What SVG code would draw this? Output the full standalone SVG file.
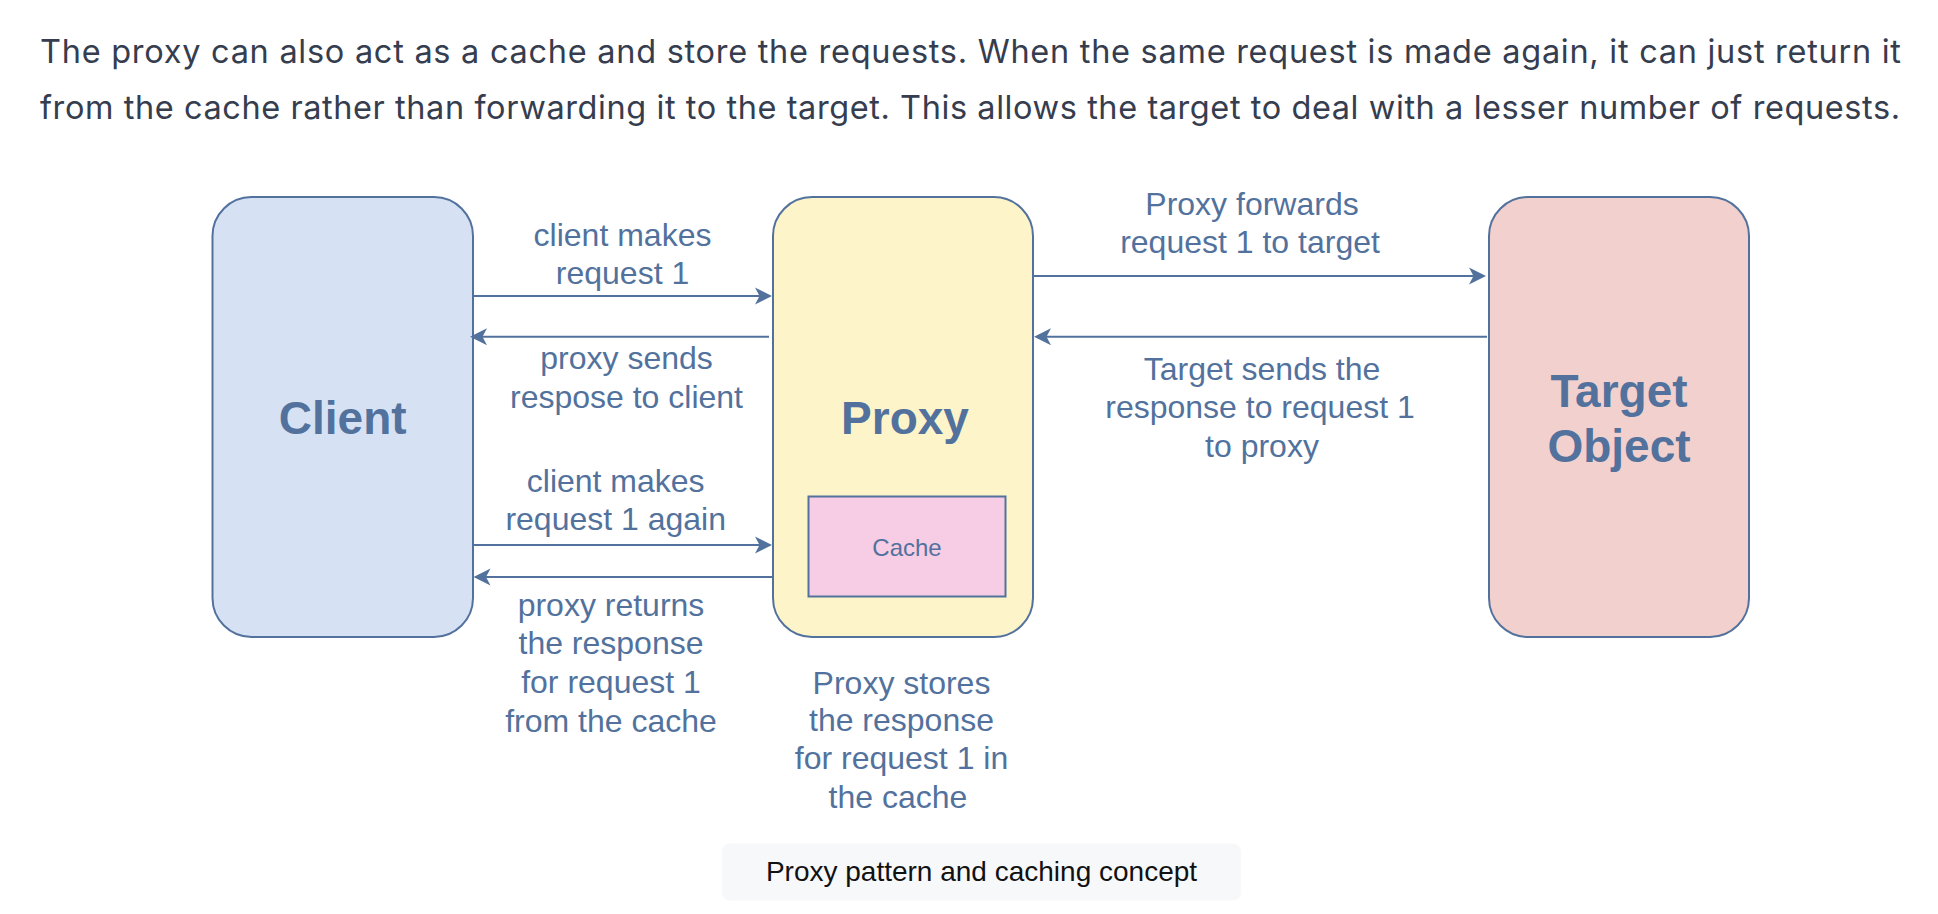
<svg xmlns="http://www.w3.org/2000/svg" width="1938" height="914" viewBox="0 0 1938 914">
<style>
.node{stroke:#52729D;stroke-width:2}
.title{font-family:"Liberation Sans",Arial,sans-serif;font-weight:bold;font-size:46px;fill:#52729D;text-anchor:middle}
.lbl{font-family:"Liberation Sans",Arial,sans-serif;font-size:32px;fill:#52729D;text-anchor:middle}
.edge{fill:none;stroke:#52729D;stroke-width:2;marker-end:url(#arr)}
.para{font-family:Inter,"Liberation Sans",Arial,sans-serif;font-size:32.5px;fill:#353D4F}
</style>
<defs>
<marker id="arr" viewBox="0 -9 18 18" refX="5" refY="0" markerWidth="18" markerHeight="18" orient="auto" markerUnits="userSpaceOnUse">
<path d="M17,0 L0,-8.5 L4.5,0 L0,8.5 Z" fill="#52729D"/>
</marker>
</defs>
<rect width="1938" height="914" fill="#FFFFFF"/>
<g id="paragraph">
<text class="para" x="40" y="63" textLength="1861" lengthAdjust="spacing">The proxy can also act as a cache and store the requests. When the same request is made again, it can just return it</text>
<text class="para" x="40" y="119" textLength="1860" lengthAdjust="spacing">from the cache rather than forwarding it to the target. This allows the target to deal with a lesser number of requests.</text>
</g>
<g id="client">
<rect class="node" x="212.5" y="197" width="260.5" height="440" rx="39" fill="#D6E2F4"/>
<text class="title" x="342.7" y="434">Client</text>
</g>
<g id="proxy">
<rect class="node" x="773" y="197" width="260" height="440" rx="39" fill="#FDF4CA"/>
<text class="title" x="905" y="434">Proxy</text>
</g>
<g id="cache">
<rect class="node" x="808.5" y="496.5" width="197" height="100" fill="#F6CDE4"/>
<text x="907" y="555.5" font-family="Liberation Sans, Arial, sans-serif" font-size="24" fill="#52729D" text-anchor="middle">Cache</text>
</g>
<g id="target">
<rect class="node" x="1489" y="197" width="260" height="440" rx="39" fill="#F2D0CD"/>
<text class="title" x="1619" y="406.7">Target</text>
<text class="title" x="1619" y="461.7">Object</text>
</g>
<g id="connectors">
<path class="edge" d="M473,296 H760"/>
<path class="edge" d="M769,336.7 H482"/>
<path class="edge" d="M473,545 H760"/>
<path class="edge" d="M773,577 H485.5"/>
<path class="edge" d="M1033,276 H1474"/>
<path class="edge" d="M1487,336.7 H1046"/>
</g>
<g id="labels">
<text class="lbl" x="622.5" y="245.5">client makes</text>
<text class="lbl" x="622.5" y="283.5">request 1</text>
<text class="lbl" x="626.5" y="369">proxy sends</text>
<text class="lbl" x="626.5" y="407.5">respose to client</text>
<text class="lbl" x="615.7" y="491.5">client makes</text>
<text class="lbl" x="615.7" y="529.5">request 1 again</text>
<text class="lbl" x="611" y="616">proxy returns</text>
<text class="lbl" x="611" y="654">the response</text>
<text class="lbl" x="611" y="692.5">for request 1</text>
<text class="lbl" x="611" y="731.5">from the cache</text>
<text class="lbl" x="1252" y="215">Proxy forwards</text>
<text class="lbl" x="1250" y="252.7">request 1 to target</text>
<text class="lbl" x="1262" y="380">Target sends the</text>
<text class="lbl" x="1260" y="418.3">response to request 1</text>
<text class="lbl" x="1262" y="456.5">to proxy</text>
<text class="lbl" x="901.5" y="693.5">Proxy stores</text>
<text class="lbl" x="901.5" y="731">the response</text>
<text class="lbl" x="901.5" y="769">for request 1 in</text>
<text class="lbl" x="898" y="807.5">the cache</text>
</g>
<g id="caption">
<rect x="722" y="843.5" width="519" height="57" rx="8" fill="#F7F8FA"/>
<text x="981.5" y="881" font-family="Liberation Sans, Arial, sans-serif" font-size="28" fill="#111111" text-anchor="middle">Proxy pattern and caching concept</text>
</g>
</svg>
